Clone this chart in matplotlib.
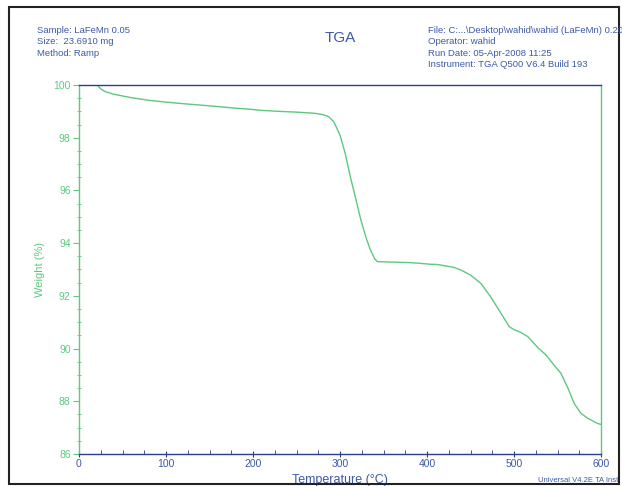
import matplotlib
matplotlib.use("Agg")
import matplotlib.pyplot as plt
from matplotlib.ticker import MultipleLocator
from matplotlib.patches import Rectangle

temperature = [21, 25, 30, 40, 60, 80, 100, 120, 139, 160, 180, 197, 208.5, 230, 250, 270, 280, 287, 293,
               300, 306, 312, 318, 324, 330, 335, 340, 343, 360, 381, 393, 404, 412, 431, 439, 450,
               462, 473, 485, 494.6, 500, 508, 516, 527, 537, 546, 554, 562, 569.5, 577, 585, 596, 600]
weight = [100.0, 99.85, 99.75, 99.65, 99.52, 99.42, 99.35, 99.29, 99.24, 99.18, 99.12, 99.08, 99.04, 99.0,
          98.97, 98.93, 98.88, 98.8, 98.6, 98.1, 97.4, 96.5, 95.7, 94.88, 94.2, 93.74, 93.4, 93.3, 93.28,
          93.26, 93.23, 93.2, 93.19, 93.08, 92.98, 92.79, 92.47, 91.97, 91.34, 90.83, 90.72, 90.61,
          90.45, 90.05, 89.75, 89.37, 89.06, 88.5, 87.9, 87.54, 87.35, 87.16, 87.12]

header_left = ["Sample: LaFeMn 0.05", "Size:  23.6910 mg", "Method: Ramp"]
header_right = ["File: C:...\\Desktop\\wahid\\wahid (LaFeMn) 0.20",
                "Operator: wahid", "Run Date: 05-Apr-2008 11:25",
                "Instrument: TGA Q500 V6.4 Build 193"]

green = "#5cc97e"
blue = "#3d5aa8"
dark_blue = "#2a3d8f"
font = ["Liberation Sans", "DejaVu Sans"]
plt.rcParams["font.family"] = font

fig = plt.figure(figsize=(6.22, 4.86), dpi=100)
ax = fig.add_axes([79/622, 1-454/486, (601-79)/622, (454-85)/486])

ax.plot(temperature, weight, color=green, lw=1.0)
ax.set_xlim(0, 600)
ax.set_ylim(86, 100)
ax.xaxis.set_major_locator(MultipleLocator(100))
ax.xaxis.set_minor_locator(MultipleLocator(25))
ax.yaxis.set_major_locator(MultipleLocator(2))
ax.yaxis.set_minor_locator(MultipleLocator(0.5))

for s in ("top", "bottom"):
    ax.spines[s].set_color(dark_blue)
    ax.spines[s].set_linewidth(1.0)
for s in ("left", "right"):
    ax.spines[s].set_color(green)
    ax.spines[s].set_linewidth(1.0)

ax.tick_params(axis="x", which="major", direction="inout", length=5, color=dark_blue,
               labelcolor=blue, labelsize=7.5, pad=1, top=False)
ax.tick_params(axis="x", which="minor", direction="in", length=3, color=dark_blue, top=False)
ax.tick_params(axis="y", which="major", direction="out", length=4, color=green,
               labelcolor=green, labelsize=7.5, pad=2, right=False)
ax.tick_params(axis="y", which="minor", direction="inout", length=3, color=green, right=False)

ax.set_ylabel("Weight (%)", color=green, fontsize=8, labelpad=6)
ax.set_xlabel("Temperature (°C)", color=blue, fontsize=9, labelpad=3.5)

for i, t in enumerate(header_left):
    fig.text(37/622, 1-(30+11.5*i)/486, t, color=blue, fontsize=6.8, va="center", ha="left")
for i, t in enumerate(header_right):
    fig.text(428/622, 1-(30+11.5*i)/486, t, color=blue, fontsize=6.8, va="center", ha="left")
fig.text(340/622, 1-38/486, "TGA", color=blue, fontsize=11, va="center", ha="center")
fig.text(538/622, 1-480/486, "Universal V4.2E TA Inst", color=blue, fontsize=5.5,
         va="center", ha="left")

fig.patches.append(Rectangle((9/622, 2/486), (619-9)/622, (477)/486, transform=fig.transFigure,
                             fill=False, edgecolor="#222222", lw=1.5))

fig.savefig("out.png", dpi=100)
